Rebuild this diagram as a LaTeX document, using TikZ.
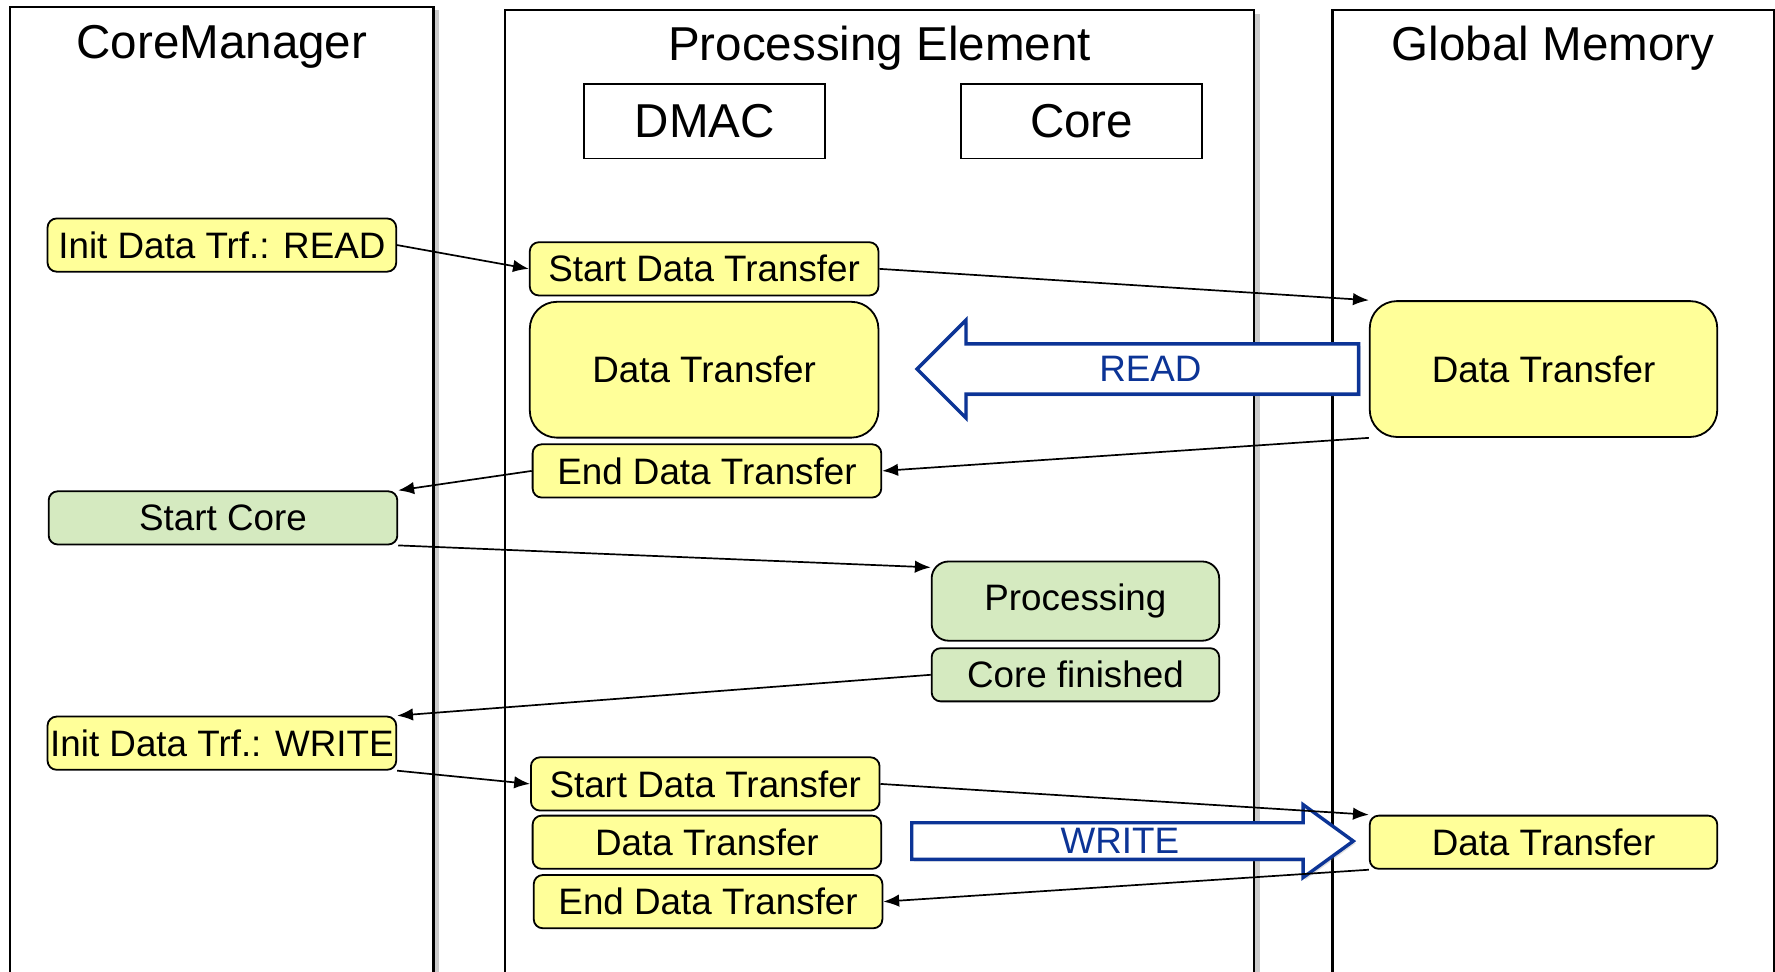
\documentclass[tikz,border=0pt]{standalone}
\usepackage{fontspec}
\setmainfont{Liberation Sans}
\usetikzlibrary{positioning, arrows.meta, shapes.arrows, shadows}
\definecolor{stepyellow}{RGB}{255,255,153}
\definecolor{stepgreen}{RGB}{213,234,192}
\definecolor{flowblue}{RGB}{12,52,150}
\newcommand{\titlefont}{\fontsize{42}{48}\selectfont}
\newcommand{\labelfont}{\fontsize{32.5}{38}\selectfont}
\tikzset{lane/.style={draw, line width=2pt, fill=white, anchor=north west, minimum height=900pt, inner sep=0pt,
    drop shadow={shadow xshift=5pt, shadow yshift=-3pt, opacity=.4}},
  title/.style={inner sep=0pt, font=\titlefont},
  unit/.style={draw, line width=1.6pt, minimum width=213pt, minimum height=66pt, inner sep=0pt, font=\titlefont},
  yellow step/.style={draw, line width=1.6pt, fill=stepyellow, rounded corners=8pt, minimum width=308pt,
    minimum height=47pt, inner sep=0pt, font=\labelfont},
  green step/.style={yellow step, fill=stepgreen},
  big/.style={minimum height=120pt, rounded corners=24pt},
  flow/.style={single arrow, draw=flowblue, line width=3pt, fill=white, text=flowblue, font=\labelfont,
    single arrow head indent=0pt, inner xsep=0pt, minimum height=390pt,
    drop shadow={shadow xshift=2pt, shadow yshift=-2pt, opacity=.25}},
  msg/.style={draw, ->, line width=1.5pt},}

\begin{document}
\begin{tikzpicture}[x=1pt, y=-1pt, >={Latex[length=14pt,width=11pt]}]
        \useasboundingbox (0,0) rectangle (1568,858);
        \clip (0,0) rectangle (1568,858);
        % Lanes
        \node[lane, minimum width=374pt] (cm) at (8,5) {};
        \node[lane, minimum width=662pt] (pe) at (445,8) {};
        \node[lane, minimum width=390pt] (gm) at (1176,8) {};
        \node[title, below=17pt of cm.north] (cmtitle) {CoreManager};
        \node[title, below=15pt of pe.north] (petitle) {Processing Element};
        \node[title, below=15pt of gm.north] (gmtitle) {Global Memory};
        \node[unit] (dmac) at (622.5,107) {DMAC};
        \node[unit] (core) at (955.5,107) {Core};
        % Read phase
        \node[yellow step] (initrd) at (196,216.5) {Init Data Trf.: READ};
        \node[yellow step] (startrd) at (622,237.5) {Start Data Transfer};
        \node[yellow step, big, below=4pt of startrd] (dtrd) {Data Transfer};
        \node[yellow step] (endrd) at (624.5,416) {End Data Transfer};
        \node[yellow step, big, minimum width=307pt] (gmrd) at (1363.5,326) {Data Transfer};
        \node[flow, shape border rotate=180, single arrow head extend=21pt, single arrow tip angle=90,
          inner ysep=9.5pt, anchor=tip] (readflow) at (808,326) {READ};
        % Processing
        \node[green step] (startcore) at (197,457.5) {Start Core};
        \node[green step, minimum width=254pt, minimum height=70pt, rounded corners=15pt] (proc) at (950,531) {Processing};
        \node[green step, minimum width=254pt, below=5pt of proc] (corefin) {Core finished};
        % Write phase
        \node[yellow step] (initwr) at (196,656.5) {Init Data Trf.: WRITE};
        \node[yellow step] (startwr) at (623,692.5) {Start Data Transfer};
        \node[yellow step] (dtwr) at (624.5,744) {Data Transfer};
        \node[yellow step] (endwr) at (625.5,796.5) {End Data Transfer};
        \node[yellow step, minimum width=307pt] (gmwr) at (1363.5,744) {Data Transfer};
        \node[flow, single arrow head extend=16pt, single arrow tip angle=72,
          inner ysep=3.5pt, anchor=tip] (writeflow) at (1198,743) {WRITE};
        % Messages
        \path
        (initrd.east) edge[msg] (startrd.west)
        (startrd.east) edge[msg] (gmrd.north west)
        (gmrd.south west) edge[msg] (endrd.east)
        (endrd.west) edge[msg] (startcore.north east)
        (startcore.south east) edge[msg] ([yshift=-6pt]proc.north west)
        (corefin.west) edge[msg] (initwr.north east)
        (initwr.south east) edge[msg] (startwr.west)
        (startwr.east) edge[msg] (gmwr.north west)
        (gmwr.south west) edge[msg] (endwr.east);
    \end{tikzpicture}
\end{document}
